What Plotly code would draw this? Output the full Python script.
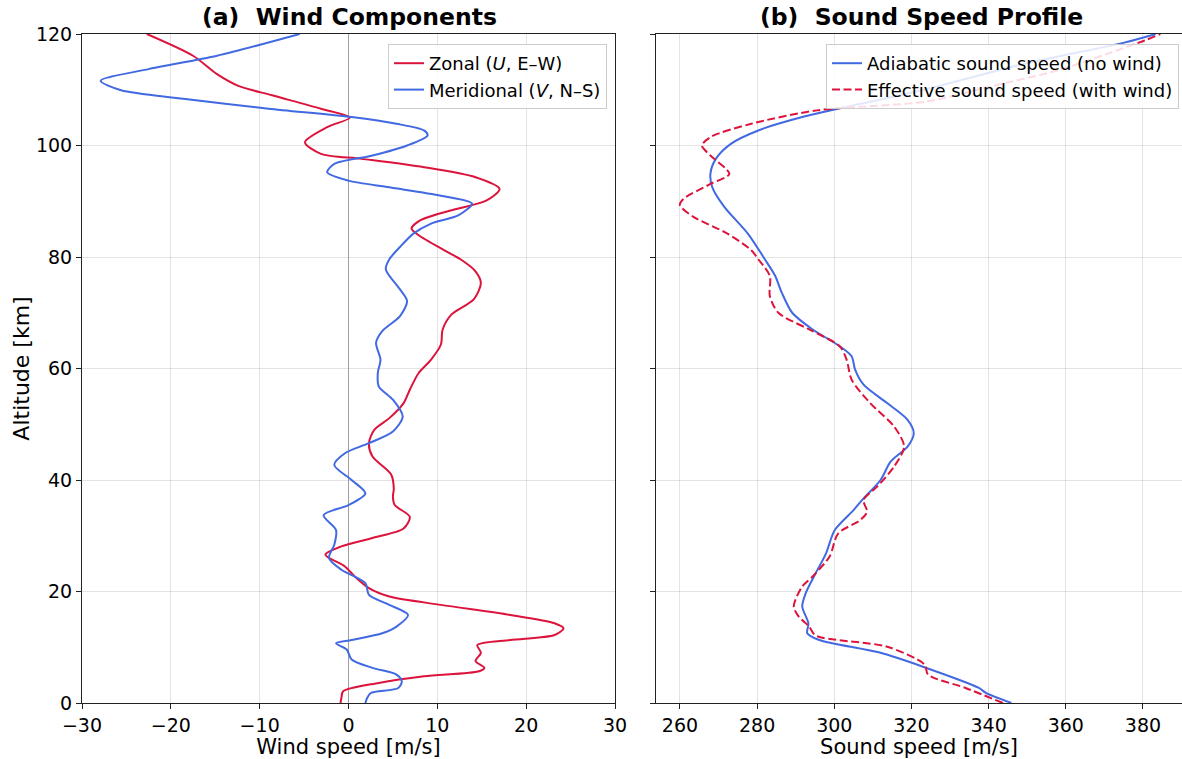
import plotly.graph_objects as go

# ---------------- data ----------------
zonal_alt = [0, 0.9, 2.1, 3.6, 4.8, 5.7, 6.3, 7.5, 9.0, 10.4, 11.3, 12.2, 13.4, 14.3, 15.8,
             17.6, 19.1, 20.6, 22.7, 24.5, 26.6, 28.1, 29.6, 31.3, 33.4, 35.5, 37.0, 38.5,
             41.0, 44.2, 46.6, 49.0, 51.1, 53.8, 56.2, 59.2, 61.6, 64.3, 67.0, 69.7, 72.4,
             75.4, 77.6, 79.6, 81.2, 83.9, 85.1, 86.6, 88.4, 90.1, 92.2, 94.3, 96.1, 97.6,
             98.5, 100.6, 103.3, 105.0, 106.6, 109.0, 110.7, 112.8, 116.1, 120.0]
zonal_u = [-0.9, -0.8, -0.6, 3.4, 8.5, 14.7, 15.3, 14.3, 14.9, 14.5, 18.2, 23.2, 24.2, 23.2, 18.2,
           10.4, 4.6, 2.3, 0.7, -0.4, -2.6, -0.8, 2.7, 6.2, 6.9, 5.2, 5.0, 5.1,
           4.8, 2.7, 2.3, 2.9, 4.6, 6.2, 6.9, 7.9, 9.3, 10.4, 10.6, 11.6, 14.1,
           14.9, 14.2, 12.6, 10.8, 7.9, 7.1, 8.1, 11.6, 15.5, 17.0, 14.3, 8.5, 1.5,
           -3.1, -4.9, -2.4, 0.15, -3.1, -8.6, -12.4, -14.8, -17.5, -22.7]

merid_alt = [0, 0.9, 1.8, 2.7, 3.9, 5.1, 6.3, 7.8, 9.6, 10.7, 11.3, 12.5, 13.7, 15.8, 17.6,
             19.4, 21.5, 23.9, 26.0, 28.4, 31.0, 33.7, 35.5, 37.6, 40.0, 42.7, 44.8, 46.6,
             48.7, 51.4, 54.4, 56.8, 59.2, 61.6, 64.6, 66.7, 69.4, 72.1, 74.2, 77.8, 79.6,
             81.8, 84.2, 86.0, 87.5, 89.6, 91.0, 92.5, 93.7, 95.2, 96.7, 98.2, 100.0, 101.8,
             102.7, 103.9, 105.1, 106.6, 108.4, 109.9, 111.6, 113.7, 116.1, 120.0]
merid_v = [1.9, 2.1, 2.5, 5.6, 6.0, 5.4, 2.7, 0.35, -0.2, -1.4, 0.35, 3.8, 5.4, 6.7, 4.6,
           2.3, 1.9, -0.8, -2.2, -1.6, -1.4, -2.8, 0.0, 1.9, 0.35, -1.6, -0.4, 2.3,
           5.0, 6.1, 5.0, 3.4, 3.3, 3.6, 3.1, 3.8, 5.8, 6.6, 5.8, 4.2, 4.6,
           5.8, 7.3, 9.3, 12.4, 13.9, 10.4, 4.6, 0.0, -2.4, -1.6, 2.7, 6.6, 8.9,
           8.5, 5.4, 0.35, -9.0, -18.6, -25.6, -27.9, -22.5, -14.8, -5.5]

adiab_alt = [0, 1.8, 2.7, 6.6, 9.0, 11.3, 12.5, 14.3, 17.3, 19.7, 23.3, 26.9, 31.0, 34.6,
             36.7, 40.0, 43.3, 46.0, 48.4, 50.8, 53.8, 57.1, 59.8, 62.2, 64.0, 67.0, 70.0,
             73.6, 76.6, 79.6, 84.2, 89.0, 92.5, 94.9, 97.6, 100.3, 102.7, 105.1, 107.2,
             109.9, 114.6, 118.5, 120.0]
adiab_c = [345.9, 339.3, 337.5, 322.6, 312.0, 296.1, 293.0, 293.3, 291.7, 292.6, 295.2, 297.9,
           300.1, 305.0, 307.6, 312.0, 314.6, 319.0, 320.6, 319.0, 313.7, 307.6, 305.4, 304.5,
           301.4, 294.4, 289.1, 286.4, 284.7, 282.0, 277.6, 271.5, 268.4, 267.9, 269.3, 273.2,
           280.3, 291.7, 304.9, 322.6, 349.0, 375.4, 383.3]

eff_alt = [0, 2.7, 5.1, 6.9, 10.1, 12.1, 13.7, 15.5, 17.3, 20.9, 22.7, 26.3, 30.4, 32.8, 34.3,
           36.4, 38.8, 42.4, 46.0, 49.6, 53.8, 58.0, 61.6, 64.0, 67.0, 70.0, 73.0, 76.6, 79.6,
           81.2, 84.2, 87.2, 89.3, 90.4, 93.1, 94.9, 98.2, 100.0, 101.5, 103.9, 106.3, 107.9,
           110.5, 113.5, 116.5, 118.8, 120.0]
eff_c = [343.7, 334.0, 324.3, 323.4, 313.7, 295.2, 293.5, 290.8, 289.5, 291.7, 294.4, 298.8,
         301.0, 306.7, 308.5, 307.6, 311.1, 315.5, 318.1, 315.5, 309.3, 304.5, 303.2, 301.4,
         293.5, 285.5, 283.3, 283.3, 280.3, 278.5, 272.3, 263.5, 260.0, 260.9, 267.9, 272.8,
         267.9, 265.7, 267.9, 278.5, 295.5, 324.0, 340.0, 358.0, 371.0, 380.3, 384.5]

wind_ticks = [-30, -20, -10, 0, 10, 20, 30]
wind_ticklabels = ["\u221230", "\u221220", "\u221210", "0", "10", "20", "30"]
speed_ticks = [260, 280, 300, 320, 340, 360, 380]
speed_ticklabels = ["260", "280", "300", "320", "340", "360", "380"]
alt_ticks = [0, 20, 40, 60, 80, 100, 120]
alt_ticklabels = ["0", "20", "40", "60", "80", "100", "120"]

# ---------------- styling ----------------
RED = "#DC143C"
BLUE = "#4169E1"
FONT = "DejaVu Sans"
GRID = "rgba(176,176,176,0.35)"
AX = "#222222"
TICKFONT = dict(family=FONT, size=19, color="#000000")

fig = go.Figure()

fig.add_trace(go.Scatter(x=zonal_u, y=zonal_alt, mode="lines",
                         line=dict(color=RED, width=2, shape="spline", smoothing=0.8),
                         name="Zonal (<i>U</i>, E\u2013W)", xaxis="x", yaxis="y", legend="legend"))
fig.add_trace(go.Scatter(x=merid_v, y=merid_alt, mode="lines",
                         line=dict(color=BLUE, width=2, shape="spline", smoothing=0.8),
                         name="Meridional (<i>V</i>, N\u2013S)", xaxis="x", yaxis="y", legend="legend"))
fig.add_trace(go.Scatter(x=adiab_c, y=adiab_alt, mode="lines",
                         line=dict(color=BLUE, width=2, shape="spline", smoothing=0.8),
                         name="Adiabatic sound speed (no wind)", xaxis="x2", yaxis="y2",
                         legend="legend2"))
fig.add_trace(go.Scatter(x=eff_c, y=eff_alt, mode="lines",
                         line=dict(color=RED, width=2, dash="8px,3.5px", shape="spline",
                                   smoothing=0.8),
                         name="Effective sound speed (with wind)", xaxis="x2", yaxis="y2",
                         legend="legend2"))

W, H = 1182, 759
L, R, T, B = 82, 0, 34, 56
PW = W - L - R
left_end = (615 - L) / PW
right_start = (656 - L) / PW

common_x = dict(showline=True, linecolor=AX, linewidth=1, mirror=True,
                ticks="outside", ticklen=5, tickcolor=AX, tickwidth=1,
                showgrid=True, gridcolor=GRID, gridwidth=1,
                tickfont=TICKFONT, automargin=False)

LEGFONT = dict(family=FONT, size=18, color="#000000")

fig.update_layout(
    width=W, height=H,
    margin=dict(l=L, r=R, t=T, b=B),
    paper_bgcolor="white", plot_bgcolor="white",
    font=dict(family=FONT, color="#000000"),
    xaxis=dict(domain=[0, left_end], range=[-30, 30], tickvals=wind_ticks,
               ticktext=wind_ticklabels, zeroline=True, zerolinecolor="rgba(128,128,128,0.75)",
               zerolinewidth=1,
               title=dict(text="Wind speed [m/s]", font=dict(family=FONT, size=21), standoff=6),
               **common_x),
    xaxis2=dict(domain=[right_start, 1], range=[253.8, 260 + (W - 680) / 3.858],
                tickvals=speed_ticks, ticktext=speed_ticklabels, zeroline=False,
                title=dict(text="Sound speed [m/s]", font=dict(family=FONT, size=21), standoff=6),
                anchor="y2", **common_x),
    yaxis=dict(domain=[0, 1], range=[0, 120], tickvals=alt_ticks, ticktext=alt_ticklabels,
               showline=True, linecolor=AX, linewidth=1, mirror=True,
               ticks="outside", ticklen=5, tickcolor=AX, tickwidth=1,
               showgrid=True, gridcolor=GRID, zeroline=False, tickfont=TICKFONT,
               automargin=False,
               title=dict(text="Altitude [km]", font=dict(family=FONT, size=22), standoff=0)),
    yaxis2=dict(domain=[0, 1], range=[0, 120], tickvals=alt_ticks, showticklabels=False,
                anchor="x2", matches="y",
                showline=True, linecolor=AX, linewidth=1, mirror=False,
                ticks="outside", ticklen=5, tickcolor=AX, tickwidth=1,
                showgrid=True, gridcolor=GRID, zeroline=False, automargin=False),
    legend=dict(x=(607 - L) / PW, xanchor="right", y=(703 - 44) / 669, yanchor="top",
                bgcolor="rgba(255,255,255,0.85)", bordercolor="#CCCCCC", borderwidth=1,
                font=LEGFONT, tracegroupgap=0),
    legend2=dict(x=(1179 - L) / PW, xanchor="right", y=(703 - 44) / 669, yanchor="top",
                 bgcolor="rgba(255,255,255,0.85)", bordercolor="#CCCCCC", borderwidth=1,
                 font=LEGFONT, tracegroupgap=0),
    showlegend=True,
)

fig.add_annotation(text="<b>(a)\u00a0\u00a0Wind Components</b>", xref="paper", yref="paper",
                   x=(349 - L) / PW, y=1, xanchor="center", yanchor="bottom", yshift=1,
                   showarrow=False, font=dict(family=FONT, size=23.5, color="#000000"))
fig.add_annotation(text="<b>(b)\u00a0\u00a0Sound Speed Profile</b>", xref="paper", yref="paper",
                   x=(921 - L) / PW, y=1, xanchor="center", yanchor="bottom", yshift=1,
                   showarrow=False, font=dict(family=FONT, size=23.5, color="#000000"))

fig.write_html("out.html")
